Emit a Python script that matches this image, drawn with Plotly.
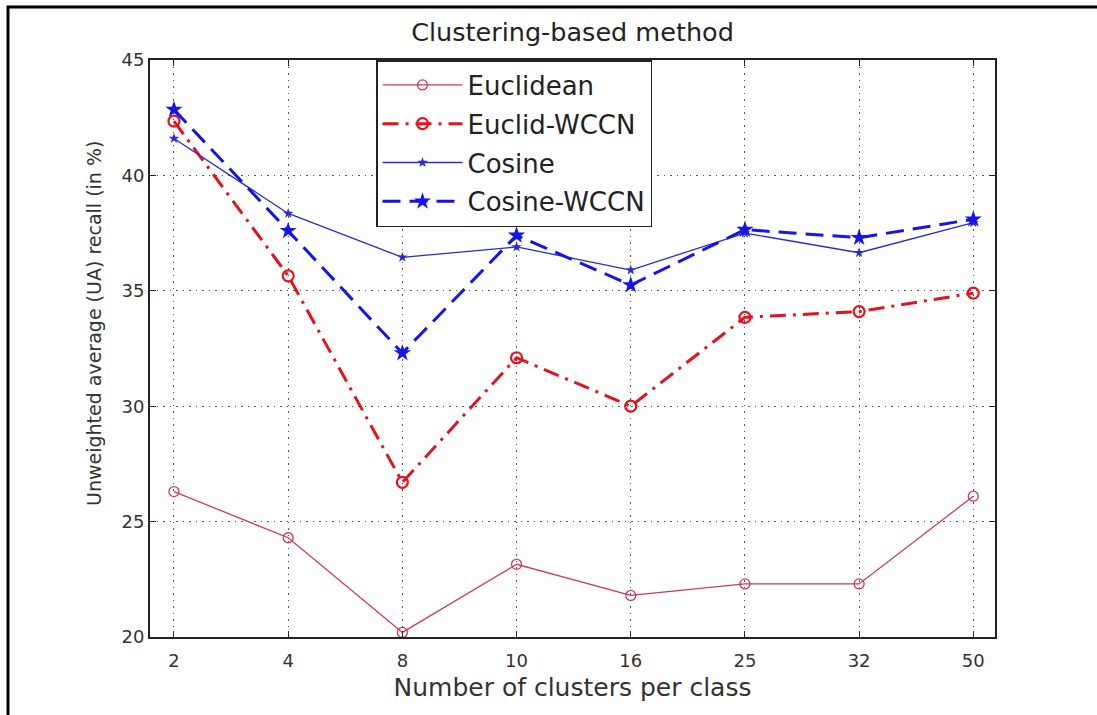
import plotly.graph_objects as go

clusters = ["2", "4", "8", "10", "16", "25", "32", "50"]
euclidean = [26.3, 24.3, 20.2, 23.15, 21.8, 22.3, 22.3, 26.1]
euclid_wccn = [42.35, 35.65, 26.7, 32.1, 30.0, 33.85, 34.1, 34.9]
cosine = [41.6, 38.35, 36.45, 36.9, 35.9, 37.5, 36.65, 37.95]
cosine_wccn = [42.85, 37.6, 32.3, 37.4, 35.25, 37.65, 37.3, 38.1]

FONT = "DejaVu Sans, Liberation Sans, sans-serif"
xi = list(range(len(clusters)))

fig = go.Figure()
fig.add_trace(go.Scatter(
    x=xi, y=euclidean, name="Euclidean", mode="lines+markers", legendgroup="a",
    line=dict(color="#cc3a5e", width=1.3),
    marker=dict(symbol="circle-open", size=10, color="#cc3a5e", line=dict(width=1.3))))
fig.add_trace(go.Scatter(
    x=xi, y=euclid_wccn, name="Euclid-WCCN", mode="lines+markers", legendgroup="b",
    line=dict(color="#e8101e", width=3, dash="16px,7px,3px,7px"),
    marker=dict(symbol="circle-open", size=11, color="#e8101e", line=dict(width=2.2))))
fig.add_trace(go.Scatter(
    x=xi, y=cosine, name="Cosine", mode="lines+markers", legendgroup="c",
    line=dict(color="#2b2bd0", width=1.3),
    marker=dict(symbol="star", size=8, color="#2b2bd0")))
fig.add_trace(go.Scatter(
    x=xi, y=cosine_wccn, name="Cosine-WCCN", mode="lines+markers", legendgroup="d",
    line=dict(color="#1414ee", width=3, dash="18px,9px"),
    marker=dict(symbol="star", size=13, color="#1414ee")))

axis_common = dict(
    showline=True, linecolor="#222", linewidth=1.8, mirror="ticks",
    ticks="inside", ticklen=6, tickcolor="#222",
    showgrid=True, gridcolor="#555", griddash="1.5px,5px", gridwidth=1.2,
    zeroline=False, tickfont=dict(family=FONT, size=18, color="#333"),
)

fig.update_xaxes(
    **axis_common, range=[-0.21, 7.19], tickmode="array", tickvals=xi, ticktext=clusters,
    ticklabelstandoff=6,
    title=dict(text="Number of clusters per class", font=dict(family=FONT, size=25, color="#333"), standoff=9),
)
fig.update_yaxes(
    **axis_common, range=[20, 45], tickmode="array", tickvals=[20, 25, 30, 35, 40, 45],
)

fig.update_layout(
    width=1097, height=715,
    margin=dict(l=150, r=102, t=60, b=78),
    paper_bgcolor="white", plot_bgcolor="white",
    title=dict(text="Clustering-based method", x=(150 + 995) / 2 / 1097, xanchor="center",
               y=1 - 32 / 715, yanchor="middle", font=dict(family=FONT, size=25.5, color="#222")),
    legend=dict(x=(376 - 150) / 845, xanchor="left", y=1, yanchor="top",
                bgcolor="white", bordercolor="#222", borderwidth=1.5,
                font=dict(family=FONT, size=26, color="#222"),
                tracegroupgap=2, itemwidth=80, entrywidth=200, entrywidthmode="pixels"),
    showlegend=True,
    annotations=[dict(text="Unweighted average (UA) recall (in %)", textangle=-90,
                      xref="paper", yref="paper", x=(94 - 150) / 845, y=(637 - 324) / 577,
                      xanchor="center", yanchor="middle", showarrow=False,
                      font=dict(family=FONT, size=19, color="#333"))],
    shapes=[dict(type="rect", xref="paper", yref="paper",
                 x0=(8 - 150) / 845, x1=1.3, y0=-0.3, y1=(637 - 7) / 577,
                 line=dict(color="black", width=3), fillcolor="rgba(0,0,0,0)", layer="above")],
)

fig.write_html("out.html")
